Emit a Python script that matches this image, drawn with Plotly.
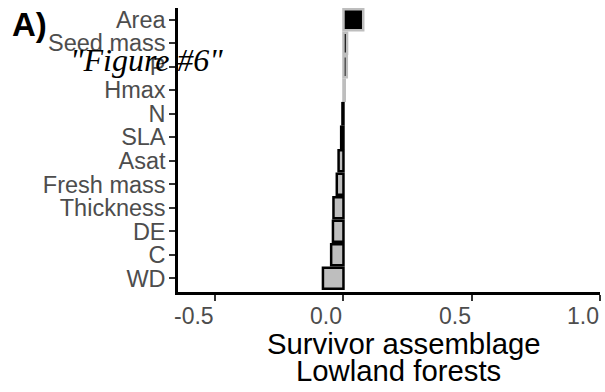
import plotly.graph_objects as go

# ---- data ----
categories = ["Area", "Seed mass", "P", "Hmax", "N", "SLA", "Asat",
              "Fresh mass", "Thickness", "DE", "C", "WD"]
values = [0.077, 0.014, 0.013, 0.005, -0.004, -0.009, -0.019,
          -0.026, -0.039, -0.041, -0.048, -0.080]
x_ticks = [-0.5, 0.0, 0.5, 1.0]
x_tick_labels = ["-0.5", "0.0", "0.5", "1.0"]
x_title_lines = ["Survivor assemblage", "Lowland forests"]
panel_label = "A)"
watermark = '"Figure #6"'

GREY = "#BEBEBE"
fills = ["black" if v > 0 else GREY for v in values]
lines = [GREY if v > 0 else "black" for v in values]

# plot area geometry (pixels)
W, H = 605, 392
L, R, T, B = 178, 5, 8, 100
PW, PH = W - L - R, H - T - B


def px_x(p):
    return (p - L) / PW


def px_y(p):
    return (H - B - p) / PH


fig = go.Figure(go.Bar(
    x=values, y=categories, orientation="h", width=0.9,
    marker=dict(color=fills, line=dict(color=lines, width=2.5)),
    hoverinfo="skip",
))

ann = []
for xv, lab in zip(x_ticks, x_tick_labels):
    ann.append(dict(x=xv, xref="x", y=0, yref="paper", text=lab, showarrow=False,
                    xanchor="right", yanchor="top", xshift=1, yshift=-9,
                    font=dict(family="Liberation Sans, Arial", size=23, color="#4D4D4D")))
ann.append(dict(x=px_x(404), xref="paper", y=0, yref="paper", text=x_title_lines[0],
                showarrow=False, xanchor="center", yanchor="top", yshift=-33,
                font=dict(family="Liberation Sans, Arial", size=29.3, color="black")))
ann.append(dict(x=px_x(398), xref="paper", y=0, yref="paper", text=x_title_lines[1],
                showarrow=False, xanchor="center", yanchor="top", yshift=-60,
                font=dict(family="Liberation Sans, Arial", size=29.3, color="black")))
ann.append(dict(x=px_x(10), xref="paper", y=px_y(4), yref="paper", text="<b>" + panel_label + "</b>",
                showarrow=False, xanchor="left", yanchor="top",
                font=dict(family="Liberation Sans, Arial", size=33, color="black")))
ann.append(dict(x=px_x(146), xref="paper", y=px_y(40), yref="paper", text="<i>" + watermark + "</i>",
                showarrow=False, xanchor="center", yanchor="top",
                font=dict(family="Liberation Serif, Times New Roman, serif", size=32, color="black")))

fig.update_layout(
    width=W, height=H,
    margin=dict(l=L, r=R, t=T, b=B, pad=0),
    paper_bgcolor="white", plot_bgcolor="white",
    showlegend=False,
    annotations=ann,
    xaxis=dict(range=[-0.645, 1.0], tickvals=x_ticks, showticklabels=False,
               ticks="outside", ticklen=6, tickwidth=2, tickcolor="#333333",
               showline=True, linecolor="black", linewidth=2.5,
               showgrid=False, zeroline=False, automargin=False),
    yaxis=dict(categoryorder="array", categoryarray=list(reversed(categories)),
               tickmode="array", tickvals=categories, ticktext=categories,
               range=[-0.584, 11.5], ticks="outside", ticklen=6, tickwidth=2,
               tickcolor="#333333", ticklabelstandoff=-1,
               tickfont=dict(family="Liberation Sans, Arial", size=23.5, color="#4D4D4D"),
               showline=True, linecolor="black", linewidth=2.5,
               showgrid=False, zeroline=False, automargin=False),
)

fig.write_html("out.html", config={"displayModeBar": False},
               post_script="document.body.style.margin='0';document.body.style.padding='0';")
